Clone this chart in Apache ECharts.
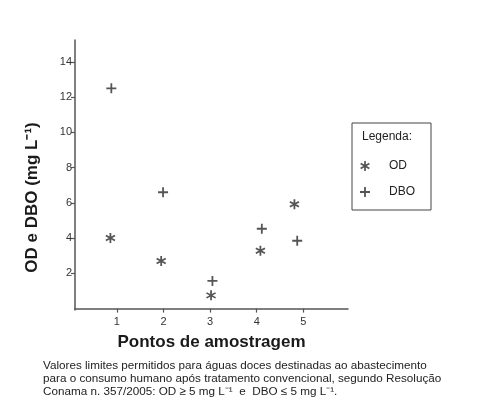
<!DOCTYPE html>
<html>
<head>
<meta charset="utf-8">
<script src="https://cdn.jsdelivr.net/npm/echarts@6/dist/echarts.min.js"></script>
<style>html,body{margin:0;padding:0;background:#fff}#c{width:482px;height:410px}</style>
</head>
<body>
<div id="c"></div>
<script>
// ---- data ----
const odX = [0.86, 1.95, 3.02, 4.08, 4.81];
const odY = [4.0, 2.7, 0.75, 3.28, 5.92];
const dboX = [0.88, 1.99, 3.05, 4.11, 4.87];
const dboY = [12.5, 6.6, 1.57, 4.53, 3.85];
const xTicks = [1, 2, 3, 4, 5];
const yTicks = [2, 4, 6, 8, 10, 12, 14];
const seriesNames = ['OD', 'DBO'];
const xTitle = 'Pontos de amostragem';
const yTitle = 'OD e DBO (mg L\u207B\u00B9)';
const legendTitle = 'Legenda:';
const footLines = [
  'Valores limites permitidos para águas doces destinadas ao abastecimento',
  'para o consumo humano após tratamento convencional, segundo Resolução',
  'Conama n. 357/2005: OD \u2265 5 mg L\u207B\u00B9  e  DBO \u2264 5 mg L\u207B\u00B9.'
];

// ---- symbols ----
function bar(angleDeg, len, w) {
  const a = angleDeg * Math.PI / 180;
  const dx = Math.cos(a), dy = Math.sin(a);
  const nx = -dy, ny = dx;
  const c = 5, h = len / 2, hw = w / 2;
  const p = [
    [c - dx * h + nx * hw, c - dy * h + ny * hw],
    [c + dx * h + nx * hw, c + dy * h + ny * hw],
    [c + dx * h - nx * hw, c + dy * h - ny * hw],
    [c - dx * h - nx * hw, c - dy * h - ny * hw]
  ];
  return 'M' + p.map(q => q[0].toFixed(3) + ' ' + q[1].toFixed(3)).join(' L') + ' Z';
}
const astPath = 'path://' + [bar(90, 10, 1.7), bar(30, 10, 1.7), bar(150, 10, 1.7)].join(' ');
const plusPath = 'path://' + [bar(90, 10, 1.8), bar(0, 10, 1.8)].join(' ');

const zip = (xs, ys) => xs.map((x, i) => [x, ys[i]]);
const ink = '#2a2a2a';

const chart = echarts.init(document.getElementById('c'), null, {renderer: 'canvas'});
chart.setOption({
  backgroundColor: '#fff',
  animation: false,
  textStyle: {fontFamily: 'Liberation Sans, Arial, sans-serif'},
  grid: {left: 75, right: 134, top: 40, bottom: 100, containLabel: false},
  xAxis: {
    type: 'value', min: 0.1, max: 5.96,
    name: xTitle, nameLocation: 'middle', nameGap: 24,
    nameTextStyle: {fontSize: 17, fontWeight: 'bold', color: '#1a1a1a', fontFamily: 'Liberation Sans, Arial, sans-serif'},
    axisLine: {show: true, lineStyle: {color: '#555', width: 1.5}},
    axisTick: {show: true, length: 4, lineStyle: {color: '#555', width: 1.2}, customValues: xTicks},
    axisLabel: {color: '#333', fontSize: 11, margin: 6, customValues: xTicks},
    splitLine: {show: false}
  },
  yAxis: {
    type: 'value', min: -0.08, max: 15.24,
    name: yTitle, nameLocation: 'middle', nameGap: 34, nameRotate: 90,
    nameTextStyle: {fontSize: 17, fontWeight: 'bold', color: '#1a1a1a', padding: [0, 45, 0, 0], fontFamily: 'Liberation Sans, Arial, sans-serif'},
    axisLine: {show: true, lineStyle: {color: '#555', width: 1.5}},
    axisTick: {show: true, length: 4, lineStyle: {color: '#555', width: 1.2}, customValues: yTicks},
    axisLabel: {color: '#333', fontSize: 11, margin: 3, customValues: yTicks},
    splitLine: {show: false}
  },
  legend: {
    left: 352, top: 123, orient: 'vertical',
    itemWidth: 10, itemHeight: 10, itemGap: 14,
    padding: [37, 16, 12, 8],
    borderColor: '#444', borderWidth: 1,
    data: [{name: seriesNames[0], icon: astPath}, {name: seriesNames[1], icon: plusPath}],
    textStyle: {color: '#222', fontSize: 12, lineHeight: 10, padding: [0, 0, 0, 14]}
  },
  graphic: [
    {type: 'text', left: 362, top: 131, style: {text: legendTitle, fill: '#222', font: '12px Liberation Sans, Arial, sans-serif'}},
    {type: 'text', left: 43, top: 359, style: {text: footLines.join('\n'), fill: '#222', font: '11.7px Liberation Sans, Arial, sans-serif', lineHeight: 13}}
  ],
  series: [
    {name: seriesNames[0], type: 'scatter', symbol: astPath, symbolSize: 10, data: zip(odX, odY), itemStyle: {color: ink}},
    {name: seriesNames[1], type: 'scatter', symbol: plusPath, symbolSize: 10, data: zip(dboX, dboY), itemStyle: {color: ink}}
  ]
});
</script>
</body>
</html>
